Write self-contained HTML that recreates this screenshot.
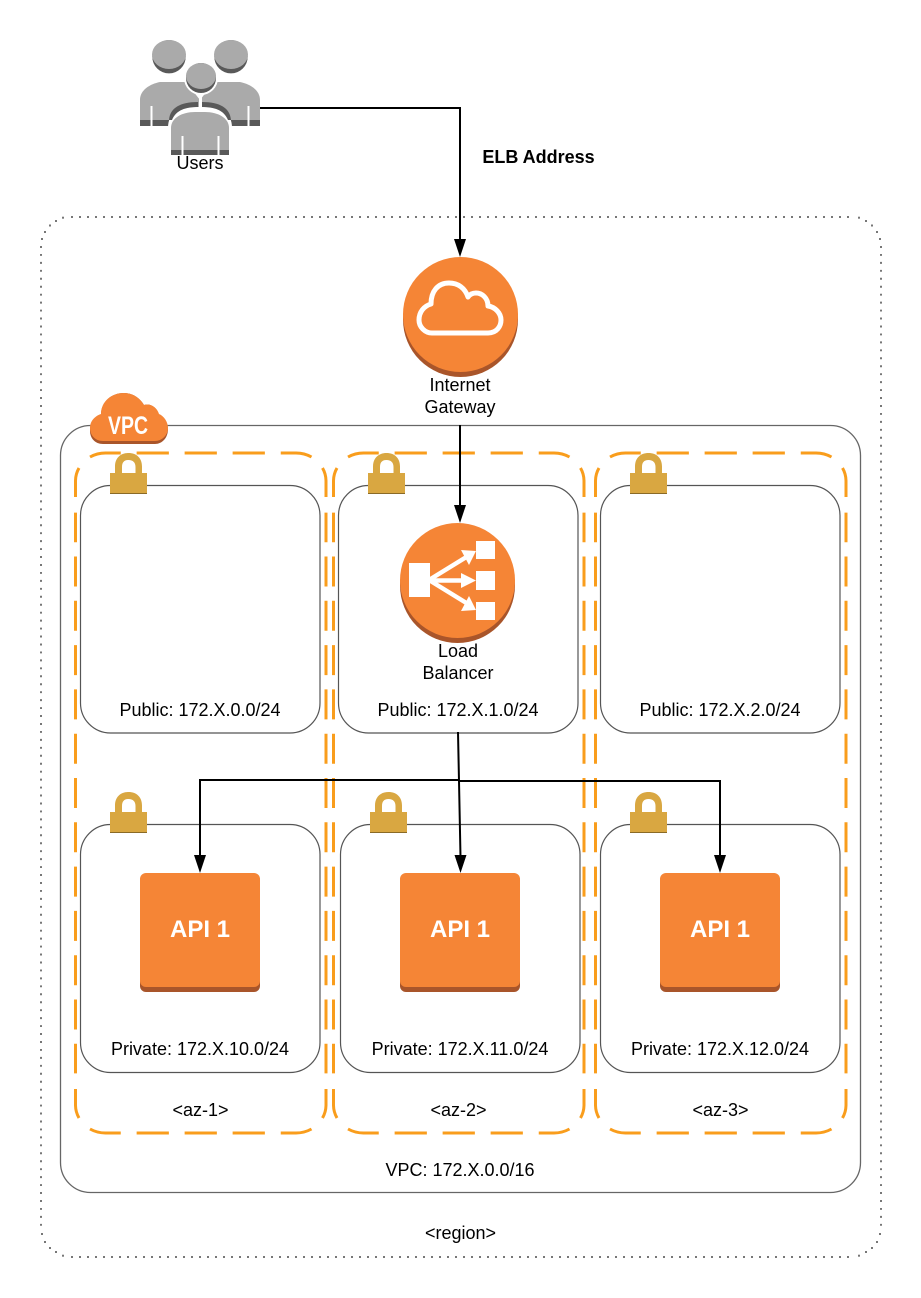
<!DOCTYPE html>
<html lang="en">
<head>
<meta charset="utf-8">
<title>VPC diagram</title>
<style>
html,body{margin:0;padding:0;background:#fff}
svg{display:block}
text{font-family:"Liberation Sans",sans-serif;font-size:18px;fill:#000;text-anchor:middle}
</style>
</head>
<body>
<svg width="921" height="1298" viewBox="0 0 921 1298" xmlns="http://www.w3.org/2000/svg">
<defs>
  <g id="lock">
    <path d="M5 21V13.500C5 5 10.500 0 18.500 0S32 5 32 13.500V21H25.500V14C25.500 9.500 23 7 18.500 7S12 9.500 12 14V21Z" fill="#d9a741"/>
    <rect x="0" y="20" width="37" height="21" fill="#d9a741"/>
    <rect x="0" y="40" width="37" height="1" fill="#8a6a26"/>
  </g>
  <g id="api">
    <rect x="0" y="4" width="120" height="115" rx="6" fill="#a9552a"/>
    <rect x="0" y="0" width="120" height="114" rx="6" fill="#f58536"/>
  </g>
  <path id="ah" d="M-6 -18H6L0 0Z" fill="#000"/>
  <g id="q" fill="none" stroke="#f99d1c" stroke-width="3">
    <path d="M45.250 0H30A30 27.600 0 0 0 14.500 4"/>
    <path d="M3.500 15A30 27.600 0 0 0 0 27.600V44"/>
    <path d="M61.250 0H93.250M109.250 0H141.250M157.250 0H189.250"/>
    <path d="M0 59.700V620.300" stroke-dasharray="29.500 14.800"/>
  </g>
  <g id="az">
    <use href="#q"/>
    <use href="#q" transform="matrix(-1 0 0 1 250.500 0)"/>
    <use href="#q" transform="matrix(1 0 0 -1 0 680)"/>
    <use href="#q" transform="matrix(-1 0 0 -1 250.500 680)"/>
  </g>
  <g id="cd" fill="#777">
    <rect x="62" y="216.700" width="2" height="2"/>
    <rect x="55" y="220" width="2" height="2"/>
    <rect x="49" y="224.500" width="2" height="2"/>
    <rect x="44" y="231" width="2" height="2"/>
    <rect x="41" y="238" width="2" height="2"/>
    <rect x="41" y="1233" width="2" height="2"/>
    <rect x="44" y="1241" width="2" height="2"/>
    <rect x="49" y="1247" width="2" height="2"/>
    <rect x="55" y="1251" width="2" height="2"/>
    <rect x="62" y="1254.700" width="2" height="2"/>
  </g>
</defs>

<!-- region -->
<g fill="none" stroke="#777" stroke-width="2">
  <path d="M71 217H851" stroke-dasharray="2 6"/>
  <path d="M71 1257H851" stroke-dasharray="2 6"/>
  <path d="M41 246V1228" stroke-dasharray="1.950 6"/>
  <path d="M881 246V1228" stroke-dasharray="1.950 6"/>
</g>
<use href="#cd"/>
<use href="#cd" transform="matrix(-1 0 0 1 922 0)"/>
<!-- VPC -->
<rect x="60.500" y="425.500" width="800" height="767" rx="30" fill="#fff" stroke="#666" stroke-width="1.300"/>

<!-- subnets -->
<g fill="#fff" stroke="#555" stroke-width="1.200">
  <rect x="80.500" y="485.500" width="239.500" height="247.500" rx="30"/>
  <rect x="338.500" y="485.500" width="239.500" height="247.500" rx="30"/>
  <rect x="600.500" y="485.500" width="239.500" height="247.500" rx="30"/>
  <rect x="80.500" y="824.500" width="239.500" height="248" rx="30"/>
  <rect x="340.500" y="824.500" width="239.500" height="248" rx="30"/>
  <rect x="600.500" y="824.500" width="239.500" height="248" rx="30"/>
</g>

<!-- AZ -->
<use href="#az" transform="translate(75.500 453)"/>
<use href="#az" transform="translate(333.500 453)"/>
<use href="#az" transform="translate(595.500 453)"/>

<!-- locks -->
<use href="#lock" x="110" y="453"/>
<use href="#lock" x="368" y="453"/>
<use href="#lock" x="630" y="453"/>
<use href="#lock" x="110" y="792"/>
<use href="#lock" x="370" y="792"/>
<use href="#lock" x="630" y="792"/>

<!-- VPC cloud -->
<g>
  <path d="M103 444C95 444 90 438 90 431C90 423 95 417 101 415C101 402 111 393 124 393C133 393 140 398 144 405C150 403 157 407 159 415C164 417 168 423 168 429C168 438 162 444 155 444Z" fill="#a9552a"/>
  <path d="M103 441C95 441 90 435 90 428C90 421 95 416 101 414C101 402 111 393 124 393C133 393 140 398 144 405C150 403 157 407 159 414C164 416 168 422 168 428C168 435 162 441 155 441Z" fill="#f58536"/>
  <text x="128" y="434" textLength="40" lengthAdjust="spacingAndGlyphs" style="font-size:25px;font-weight:bold;fill:#fff">VPC</text>
</g>

<!-- Internet gateway -->
<circle cx="460.500" cy="319.500" r="57.500" fill="#a9552a"/>
<circle cx="460.500" cy="314.500" r="57.500" fill="#f58536"/>
<path d="M432 333H488C497 333 501 326 501 320C501 313 495 307 488 306C488 298 482 293 476 293C473 293 470 294 468 297C465 288 458 283 449 283C438 283 431 291 431 304C424 306 419 312 419 320C419 327 425 333 432 333Z" fill="none" stroke="#fff" stroke-width="5" stroke-linejoin="round"/>

<!-- Load balancer -->
<circle cx="457.500" cy="585.500" r="57.500" fill="#a9552a"/>
<circle cx="457.500" cy="580.500" r="57.500" fill="#f58536"/>
<g fill="#fff">
  <rect x="409" y="563" width="21" height="34"/>
  <rect x="476" y="541" width="19" height="18"/>
  <rect x="476" y="571" width="19" height="19"/>
  <rect x="476" y="602" width="19" height="18"/>
  <path d="M476 551L461 550L469 565Z"/>
  <path d="M476 580.500L461 573V588Z"/>
  <path d="M476 610L461 611L469 596Z"/>
</g>
<g stroke="#fff" stroke-width="4.500" fill="none">
  <path d="M429 580L468 556"/>
  <path d="M429 580.500H466"/>
  <path d="M429 580L468 604"/>
</g>

<!-- API -->
<use href="#api" x="140" y="873"/>
<use href="#api" x="400" y="873"/>
<use href="#api" x="660" y="873"/>
<text x="200" y="937" style="font-size:24px;font-weight:bold;fill:#fff">API 1</text>
<text x="460" y="937" style="font-size:24px;font-weight:bold;fill:#fff">API 1</text>
<text x="720" y="937" style="font-size:24px;font-weight:bold;fill:#fff">API 1</text>

<!-- Users -->
<g>
  <circle cx="169" cy="56.700" r="16.700" fill="#595959"/>
  <ellipse cx="169" cy="54.500" rx="17" ry="14.500" fill="#aaa"/>
  <circle cx="231" cy="56.700" r="16.700" fill="#595959"/>
  <ellipse cx="231" cy="54.500" rx="17" ry="14.500" fill="#aaa"/>
  <path d="M140 126V100C140 90 150 84 160 82H186L200 100L214 82H240C250 84 260 90 260 100V126Z" fill="#aaa"/>
  <rect x="140" y="120" width="120" height="6" fill="#595959"/>
  <g fill="#fff">
    <rect x="150.500" y="106" width="2" height="20"/>
    <rect x="247.500" y="106" width="2" height="20"/>
  </g>
  <path d="M168 128C168 113 178 107 198.500 107H201.500C222 107 232 113 232 128V160H168Z" fill="#fff"/>
  <path d="M169 120C170 108 180 102 198 102V107C186 107 176 110 172 120Z" fill="#595959"/>
  <path d="M231 120C230 108 220 102 202 102V107C214 107 224 110 228 120Z" fill="#595959"/>
  <path d="M171 155V128C171 118 182 112 195 112H205C218 112 229 118 229 128V155Z" fill="#aaa"/>
  <rect x="171" y="150" width="58" height="5" fill="#595959"/>
  <rect x="181.500" y="136" width="2" height="19" fill="#fff"/>
  <rect x="217.500" y="136" width="2" height="19" fill="#fff"/>
  <circle cx="201" cy="78" r="17" fill="#fff"/>
  <rect x="199" y="94" width="3" height="14" fill="#fff"/>
  <circle cx="201" cy="78" r="15" fill="#595959"/>
  <ellipse cx="201" cy="76" rx="15" ry="13" fill="#aaa"/>
</g>

<!-- Connectors -->
<g fill="none" stroke="#000" stroke-width="2">
  <path d="M260 108H460V242"/>
  <path d="M460 425V507"/>
  <path d="M458 732L459 781L460.500 857"/>
  <path d="M200 857V780H459"/>
  <path d="M459 781H720V857"/>
</g>
<use href="#ah" x="460" y="257"/>
<use href="#ah" x="460" y="523"/>
<use href="#ah" x="200" y="873"/>
<use href="#ah" x="460.500" y="873"/>
<use href="#ah" x="720" y="873"/>

<!-- Labels -->
<text x="200" y="169">Users</text>
<text x="538.500" y="163" style="font-weight:bold">ELB Address</text>
<text x="460" y="391">Internet</text>
<text x="460" y="413">Gateway</text>
<text x="458" y="657">Load</text>
<text x="458" y="679">Balancer</text>
<text x="200" y="716">Public: 172.X.0.0/24</text>
<text x="458" y="716">Public: 172.X.1.0/24</text>
<text x="720" y="716">Public: 172.X.2.0/24</text>
<text x="200" y="1055">Private: 172.X.10.0/24</text>
<text x="460" y="1055">Private: 172.X.11.0/24</text>
<text x="720" y="1055">Private: 172.X.12.0/24</text>
<text x="200.500" y="1116">&lt;az-1&gt;</text>
<text x="458.500" y="1116">&lt;az-2&gt;</text>
<text x="720.500" y="1116">&lt;az-3&gt;</text>
<text x="460" y="1176">VPC: 172.X.0.0/16</text>
<text x="460.500" y="1239">&lt;region&gt;</text>
</svg>
</body>
</html>
